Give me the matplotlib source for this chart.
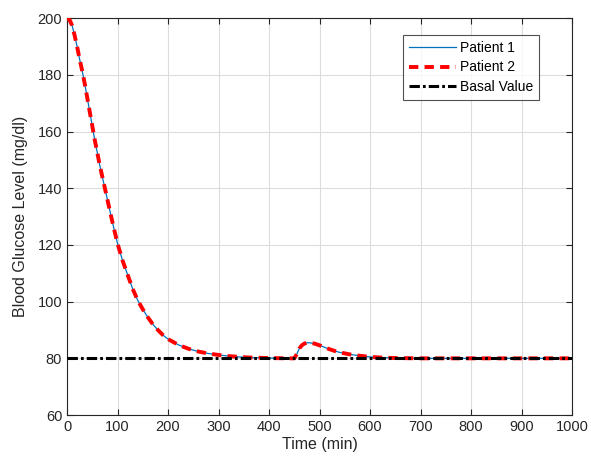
import numpy as np
import matplotlib.pyplot as plt

plt.rcParams['font.family'] = ['Liberation Sans', 'DejaVu Sans']

# Time samples (min) and glucose readings (mg/dl)
time_min = [0, 5, 10, 15, 20, 25, 30, 35, 40, 45, 50, 55, 60, 65, 70, 75, 80,
            90, 100, 110, 120, 130, 140, 150, 160, 170, 180, 190, 200, 220,
            240, 260, 280, 300, 320, 340, 360, 380, 400, 420, 440, 450, 455,
            460, 465, 470, 475, 480, 490, 500, 510, 520, 530, 540, 560, 580,
            600, 620, 650, 700, 800, 900, 1000]

patient1 = [200, 199.5, 197.5, 194, 190, 185.5, 181.5, 177, 172, 167, 162,
            157, 152.5, 148, 144, 140, 136, 128, 120.5, 114.5, 109.5, 104.5,
            100.5, 97.3, 94.5, 92, 90, 88.2, 86.8, 84.8, 83.4, 82.4, 81.7,
            81.2, 80.8, 80.5, 80.3, 80.2, 80.1, 80.05, 80, 80, 81.5, 83.5,
            84.6, 85.2, 85.5, 85.5, 85.2, 84.6, 83.9, 83.2, 82.6, 82.1, 81.4,
            80.9, 80.5, 80.3, 80.1, 80, 80, 80, 80]

patient2 = list(patient1)

basal_time = [0, 1000]
basal_value = [80, 80]

fig = plt.figure(figsize=(5.91, 4.62), dpi=100)
ax = fig.add_axes([0.1134, 0.1017, 0.8545, 0.8587])

ax.plot(time_min, patient1, color='#0072BD', lw=0.9, label='Patient 1', zorder=3)
ax.plot(time_min, patient2, color='red', lw=2.8, ls=(0, (2.4, 1.6)), label='Patient 2', zorder=4)
ax.plot(basal_time, basal_value, color='black', lw=2.2, ls=(0, (3.4, 1, 0.9, 1)),
        label='Basal Value', zorder=5)

ax.set_xlim(0, 1000)
ax.set_ylim(60, 200)
ax.set_xticks(np.arange(0, 1001, 100))
ax.set_yticks(np.arange(60, 201, 20))
ax.grid(True, color='#dcdcdc', lw=0.8)
ax.set_axisbelow(True)
ax.tick_params(direction='in', top=True, right=True, labelsize=10.5,
               colors='#262626', length=4)
for s in ax.spines.values():
    s.set_color('#262626')
    s.set_linewidth(0.8)

ax.set_xlabel('Time (min)', fontsize=11.5, color='#262626', labelpad=2)
ax.set_ylabel('Blood Glucose Level (mg/dl)', fontsize=11.5, color='#262626', labelpad=7)

leg = ax.legend(loc='upper right', bbox_to_anchor=(0.935, 0.958), fontsize=10,
                frameon=True, fancybox=False, edgecolor='#262626',
                handlelength=3.4, handletextpad=0.25, labelspacing=0.38,
                borderpad=0.45, borderaxespad=0)
leg.get_frame().set_linewidth(0.8)

fig.savefig('out.png', dpi=100)
